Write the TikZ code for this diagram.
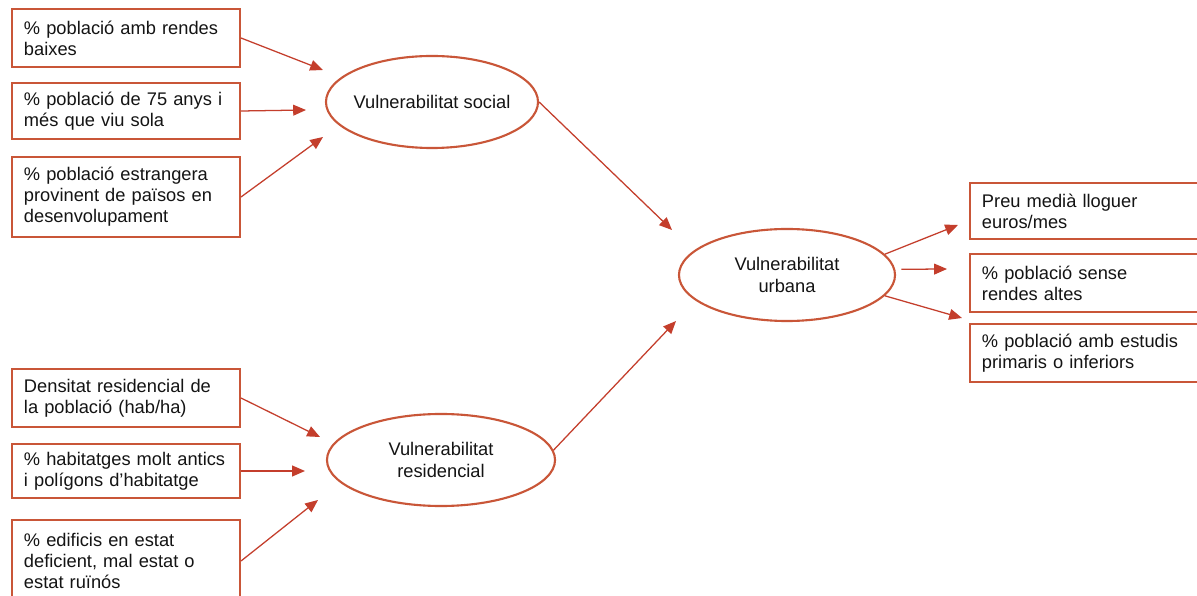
\documentclass[tikz,border=0pt]{standalone}
\usepackage{fontspec}
\setmainfont{Liberation Sans}
\usetikzlibrary{shapes.geometric,arrows.meta}
\usepackage{xcolor}
\definecolor{frame}{RGB}{201,86,56}
\definecolor{arrowred}{RGB}{196,62,44}
\definecolor{ink}{RGB}{20,20,20}
\newcommand{\construct}[5] {
    \node[construct,minimum width={#4}] (#1) at ({#2}, {#3}) {};
    \node[text=ink,align=center] at (#1) {#5};
}
\tikzset{
    item/.style={
        draw=frame,
        line width=1.4pt,
        fill=white,
        text=ink,
        text width=5.1cm,
        align=left,
        inner xsep=0.3cm,
        inner ysep=0pt
    },
    ritem/.style={item,text width=5.4cm},
    construct/.style={
        ellipse,
        draw=frame,
        line width=1.5pt,
        minimum height=2.3cm,
        inner sep=0pt
    },
    link/.style={draw=arrowred,line width=0.9pt,-{Triangle[length=0.32cm,width=0.27cm]}}
}

\begin{document}
\begin{tikzpicture}[x=0.025cm,y=-0.025cm,font=\fontsize{13}{15}\selectfont]
        \clip (0,0) rectangle (1197,596);
        \fill[white] (0,0) rectangle (1197,596);
        \node[item,minimum height=1.45cm] (b1) at (126,38) {\% població amb rendes\\baixes};
        \node[item,minimum height=1.4cm] (b2) at (126,111) {\% població de 75 anys i\\més que viu sola};
        \node[item,minimum height=2.0cm] (b3) at (126,197) {\% població estrangera\\provinent de països en\\desenvolupament};
        \node[item,minimum height=1.45cm] (b4) at (126,398) {Densitat residencial de\\la població (hab/ha)};
        \node[item,minimum height=1.35cm] (b5) at (126,471) {\% habitatges molt antics\\i polígons d'habitatge};
        \node[item,minimum height=2.05cm] (b6) at (126,561) {\% edificis en estat\\deficient, mal estat o\\estat ruïnós};
        \node[ritem,minimum height=1.4cm] (b7) at (1090,211) {Preu medià lloguer\\euros/mes};
        \node[ritem,minimum height=1.45cm] (b8) at (1090,283) {\% població sense\\rendes altes};
        \node[ritem,minimum height=1.45cm] (b9) at (1090,353) {\% població amb estudis\\primaris o inferiors};
        \construct{social}{432}{102}{5.3cm}{Vulnerabilitat social}
        \construct{resid}{441}{460}{5.7cm}{Vulnerabilitat\\residencial}
        \construct{urban}{787}{275}{5.4cm}{Vulnerabilitat\\urbana}
        \coordinate (t1) at (323,70);
        \coordinate (t2) at (306,110);
        \coordinate (t3) at (323,137);
        \coordinate (t4) at (320,437);
        \coordinate (t5) at (305,471);
        \coordinate (t6) at (318,500);
        \coordinate (t7) at (672,230);
        \coordinate (t8) at (676,321);
        \coordinate (t9) at (958,225);
        \coordinate (t10) at (947,269);
        \coordinate (t11) at (962,318);
        \foreach \a/\b in {b1.east/t1,b2.east/t2,b3.east/t3,b4.east/t4,b5.east/t5,b6.east/t6,
                           social.east/t7,resid.5/t8,urban.12/t9,urban.-12/t11}
            \draw[link] (\a) -- (\b);
        \draw[link,shorten <=0.15cm] (urban.3) -- (t10);
    \end{tikzpicture}
\end{document}
